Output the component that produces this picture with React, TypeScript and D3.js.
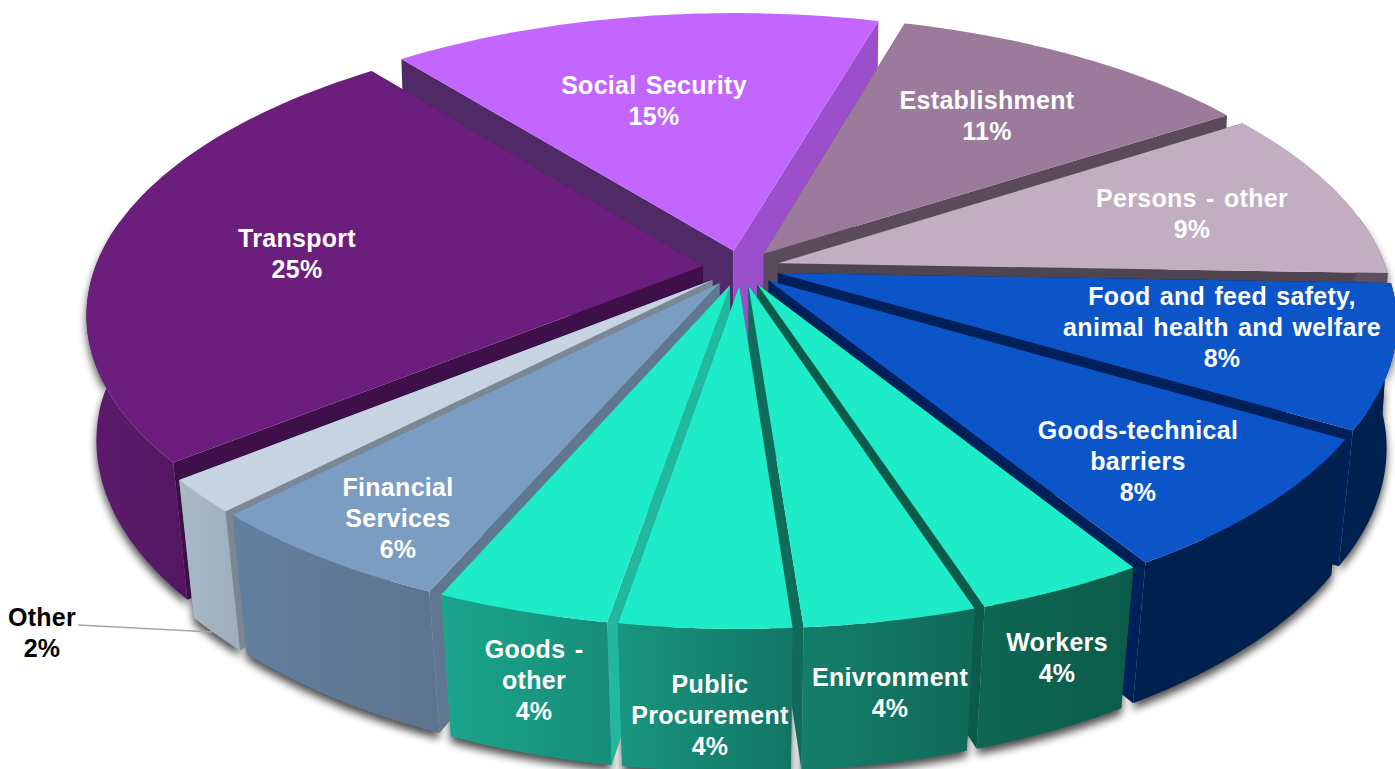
import React from "react";
import * as d3 from "d3";

const categories = ["Transport","Social Security","Establishment","Persons - other","Food and feed safety, animal health and welfare","Goods-technical barriers","Workers","Enivronment","Public Procurement","Goods - other","Financial Services","Other"];
const shares = [25,15,11,9,8,8,4,4,4,4,6,2];
// degrees the drawn slice boundaries sit away from the printed shares (perspective of the original)
const boundaryNudge = [0,0.5,1,2.4,5,4.9,3.8,3,2.4,1.7,1.2,0.4,0];
const topColors = ["#6C1E7D","#C266FF","#9B7A9C","#C2ADC2","#0B55C9","#0B55C9","#1EEBC8","#1EEBC8","#1EEBC8","#1EEBC8","#7C9DC2","#C5D3E2"];
const wallFrom = ["#5E1A6C","#5B2A78","#8E6F90","#5E4E60","#002050","#002050","#0E6653","#147E6B","#189680","#1AA58C","#62809F","#A9B9C6"];
const wallTo = ["#531762","#5B2A78","#8E6F90","#5E4E60","#002050","#002050","#0C5C4B","#106A59","#127565","#168D78","#5C748E","#9DADBB"];
const side0Colors = ["#3F0F4A","#4F2A66","#5A4A5C","#4F4550","#00205A","#00205A","#0B5B4B","#0F6B5A","#127565","#22B89E","#60788F","#7A8794"];
const side1Colors = ["#3F0F4A","#9B4FCB","#5A4A5C","#4F4550","#00205A","#00205A","#0B5B4B","#0F6B5A","#127565","#22B89E","#60788F","#7A8794"];
const labelLines = [["Transport","25%"],["Social Security","15%"],["Establishment","11%"],["Persons - other","9%"],["Food and feed safety,","animal health and welfare","8%"],["Goods-technical","barriers","8%"],["Workers","4%"],["Enivronment","4%"],["Public","Procurement","4%"],["Goods -","other","4%"],["Financial","Services","6%"],["Other","2%"]];
const labelCentres: [number,number][] = [[297,253],[654,100],[987,115],[1192,213],[1222,327],[1138,461],[1057,657],[890,692],[710,715],[534,680],[398,518],[42,632]];

const CX = 741, CY = 268, RX = 640, RY = 296, P = 0.17, DEPTH = 130, EXPLODE = 0.06, RAD = 0.95;
const deg = Math.PI / 180;
const pie = d3.pie<number>().sort(null).startAngle(-129 * deg).endAngle(231 * deg);
const arcs = pie(shares);

// model: X right, Y toward viewer (screen-down); angle clockwise from top
const project = (X: number, Y: number, z = 0): [number, number] => {
  const w = 1 - P * Y;
  const lean = 0.012 + 0.022 * Math.max(Y, 0);
  return [CX + ((RX * X) / w) * (1 - lean * z), CY + (RY * Y) / w + (z * DEPTH) / Math.sqrt(w)];
};

const line = d3.line<[number, number]>().x(d => d[0]).y(d => d[1]);

function sliceGeometry(a0: number, a1: number) {
  const mid = (a0 + a1) / 2;
  const ox = Math.sin(mid) * EXPLODE, oy = -Math.cos(mid) * EXPLODE;
  const all = d3.range(0, 61).map(i => a0 + ((a1 - a0) * i) / 60);
  const rimOf = (ts: number[], z: number) => ts.map(t => project(ox + RAD * Math.sin(t), oy - RAD * Math.cos(t), z));
  const apex = (z: number) => project(ox, oy, z);
  const r0 = rimOf(all, 0), r1 = rimOf(all, 1);
  const top = line([apex(0), ...r0]) + "Z";
  const front = all.filter(t => -Math.cos(t) > -0.17);
  const fr0 = rimOf(front, 0), fr1 = rimOf(front, 1);
  const wall = front.length > 1 ? line([...fr0, ...fr1.reverse()]) + "Z" : null;
  const side0 = line([apex(0), r0[0], r1[0], apex(1)]) + "Z";
  const side1 = line([apex(0), r0[60], r1[60], apex(1)]) + "Z";
  const xs = [...fr0, ...fr1].map(p => p[0]);
  return { top, wall, side0, side1, xMin: d3.min(xs) ?? 0, xMax: d3.max(xs) ?? 1, depth: oy - Math.cos(mid) * 0.5 };
}

const slices = arcs.map((a, i) => ({ i, ...sliceGeometry(a.startAngle + boundaryNudge[i] * deg, a.endAngle + boundaryNudge[i + 1] * deg) }));
const drawOrder = d3.sort(slices, s => s.depth);

export default function App() {
  return (
    <svg width={1395} height={769} style={{ position: "absolute", left: 0, top: 0, background: "#fff" }}>
      <defs>
        {slices.map(s => (
          <linearGradient key={s.i} id={`w${s.i}`} gradientUnits="userSpaceOnUse" x1={s.xMin} x2={s.xMax} y1={0} y2={0}>
            <stop offset="0" stopColor={wallFrom[s.i]} />
            <stop offset="1" stopColor={wallTo[s.i]} />
          </linearGradient>
        ))}
        <filter id="soft" x="-10%" y="-10%" width="120%" height="120%">
          <feGaussianBlur stdDeviation="4" />
        </filter>
      </defs>
      <g filter="url(#soft)" transform="translate(0,6)" opacity={0.7}>
        {slices.map(s => s.wall && <path key={s.i} d={s.wall} fill="#000" />)}
      </g>
      {drawOrder.map(s => (
        <g key={s.i}>
          <path d={s.side0} fill={side0Colors[s.i]} />
          <path d={s.side1} fill={side1Colors[s.i]} />
          {s.wall && <path d={s.wall} fill={`url(#w${s.i})`} />}
          <path d={s.top} fill={topColors[s.i]} />
        </g>
      ))}
      <line x1={78} y1={625} x2={212} y2={632} stroke="#a6a6a6" strokeWidth={1.4} />
      {categories.map((c, i) => {
        const ls = labelLines[i];
        const [lx, ly] = labelCentres[i];
        const h = 31;
        return (
          <text key={c} textAnchor="middle" fontFamily="Liberation Sans" fontWeight={700} fontSize={25} letterSpacing={0.3} wordSpacing={2} fill={i === 11 ? "#000" : "#fff"}>
            {ls.map((t, j) => (
              <tspan key={j} x={lx} y={ly + (j - (ls.length - 1) / 2) * h + 9}>{t}</tspan>
            ))}
          </text>
        );
      })}
    </svg>
  );
}
